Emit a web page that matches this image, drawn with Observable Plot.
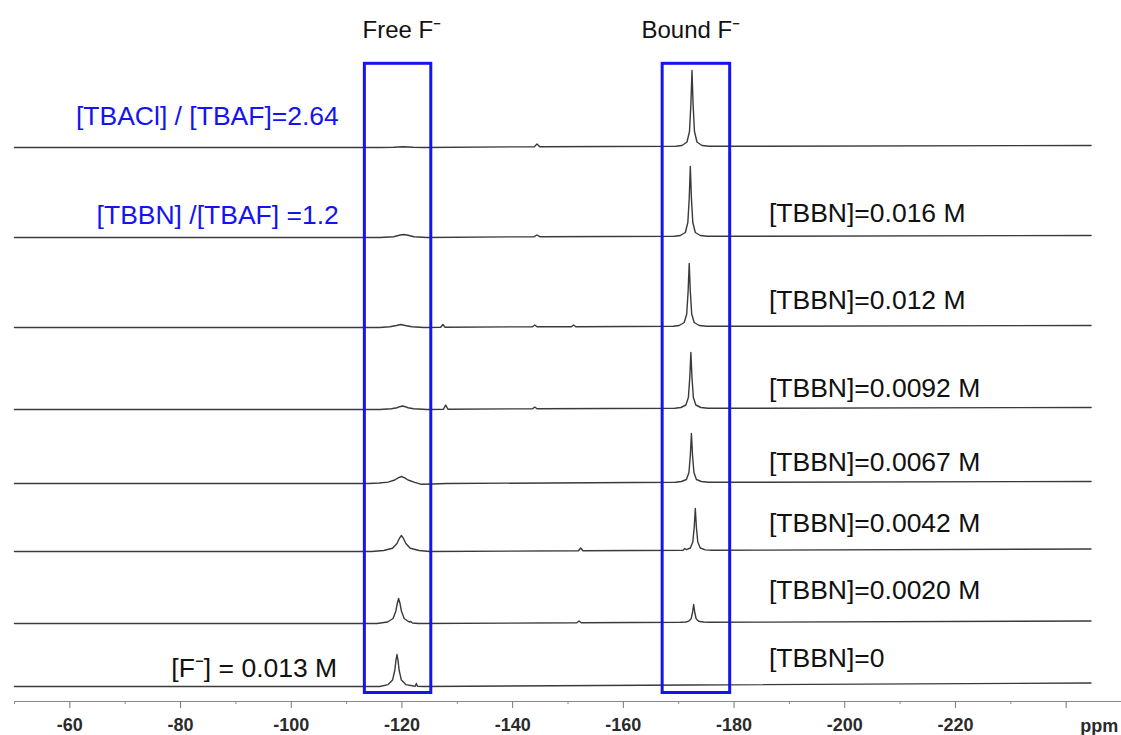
<!DOCTYPE html>
<html>
<head>
<meta charset="utf-8">
<script src="https://cdn.jsdelivr.net/npm/d3@7"></script>
<script src="https://cdn.jsdelivr.net/npm/@observablehq/plot@0.6"></script>
<style>
  html, body { margin: 0; padding: 0; background: #fff; }
  #chart svg { display: block; }
</style>
</head>
<body>
<div id="chart"></div>
<script>
// ---- Data ----
// Spectrum names (top to bottom) and their stacking offsets (intensity units)
const spectrumNames = ["TBACl/TBAF=2.64", "TBBN=0.016", "TBBN=0.012", "TBBN=0.0092", "TBBN=0.0067", "TBBN=0.0042", "TBBN=0.0020", "TBBN=0"];
const spectrumOffsets = [554, 464, 374, 292, 218, 150, 78, 15];

// Traced spectra: [ppm, intensity]
const spec1 = [[-50,0],[-116,0],[-118.5,0.3],[-120.2,0.8],[-122,0.3],[-124,0],[-143.9,0.8],[-144.4,3.5],[-144.9,0.8],[-169.5,1.2],[-170.6,2],[-171.5,5.5],[-171.95,16],[-172.2,43],[-172.4,77],[-172.6,43],[-172.85,16],[-173.3,5.5],[-174.2,2],[-175.5,1.2],[-244.5,2]];
const spec2 = [[-50,0],[-116,0],[-118.5,0.7],[-119.5,2.2],[-120.3,3],[-121.1,2.2],[-122.2,0.7],[-124.5,0],[-143.9,0.8],[-144.4,2.5],[-144.9,0.8],[-169.2,1.2],[-170.3,2],[-171.2,5],[-171.65,15],[-171.9,39],[-172.1,71],[-172.3,39],[-172.55,15],[-173,5],[-173.9,2],[-175.2,1.2],[-244.5,2]];
const spec3 = [[-50,0],[-116,0],[-117.8,0.7],[-119,2],[-119.8,3],[-120.6,2],[-121.8,0.7],[-124,0],[-127,0.3],[-127.4,3],[-127.8,0.3],[-143.6,0.7],[-144,2.5],[-144.4,0.7],[-150.6,0.8],[-151,2.5],[-151.4,0.8],[-169,1.2],[-170.1,2],[-171,5],[-171.45,13.5],[-171.7,36],[-171.9,64],[-172.1,36],[-172.35,13.5],[-172.8,5],[-173.7,2],[-175,1.2],[-244.5,2]];
const spec4 = [[-50,0],[-116,0],[-118.1,0.7],[-119.1,1.75],[-119.6,2.8],[-120.1,3.5],[-120.6,2.8],[-121.1,1.75],[-122.1,0.7],[-124.5,0],[-127.5,0.3],[-127.9,4.5],[-128.3,0.3],[-143.6,0.7],[-144,2.5],[-144.4,0.7],[-169.3,1.2],[-170.4,2],[-171.3,4.5],[-171.75,12],[-172,32],[-172.2,57],[-172.4,32],[-172.65,12],[-173.1,4.5],[-174,2],[-175.3,1.2],[-244.5,2]];
const spec5 = [[-50,0],[-114,0],[-115.9,0.5],[-117.5,1.4],[-118.7,3.5],[-119.3,5.6],[-119.9,7],[-120.5,5.6],[-121.1,3.5],[-122.3,1.2],[-123.5,-0.8],[-125.5,-0.5],[-128,0],[-169.4,1.2],[-170.5,2],[-171.4,4],[-171.85,11],[-172.1,28],[-172.3,50],[-172.5,28],[-172.75,11],[-173.2,4],[-174.1,2],[-175.4,1.2],[-244.5,2]];
const spec6 = [[-50,0],[-114.5,0],[-116.7,1],[-118.3,3.2],[-119.1,8],[-119.5,12.8],[-119.9,16],[-120.3,12.8],[-120.7,8],[-121.5,3.2],[-123.1,1],[-125,0],[-151.9,0.7],[-152.3,3.5],[-152.7,0.7],[-170.8,1.2],[-171.1,3],[-171.4,1.8],[-172.1,3.5],[-172.55,9.5],[-172.8,24],[-173,43],[-173.2,24],[-173.45,9.5],[-173.9,3.5],[-174.8,1.6],[-176,1.2],[-244.5,2.5]];
const spec7 = [[-50,0],[-115.5,0],[-117.4,1.5],[-118.4,5],[-118.9,12.5],[-119.15,20],[-119.4,25],[-119.65,20],[-119.9,12.5],[-120.4,5],[-121.3,1.5],[-121.6,2],[-121.9,0.5],[-123,0],[-151.6,0.7],[-152,2.5],[-152.4,0.7],[-170.3,1.2],[-171.3,1.5],[-171.8,2.3],[-172.25,4.8],[-172.5,11],[-172.7,19],[-172.9,11],[-173.15,4.8],[-173.6,2.3],[-174.5,1.5],[-175.5,1.2],[-244.5,2.5]];
const spec8 = [[-50,0],[-116,0],[-117.5,1.9],[-118.3,6.4],[-118.7,16],[-118.9,25.6],[-119.1,32],[-119.3,25.6],[-119.5,16],[-119.9,6.4],[-120.7,1.9],[-122.1,0.5],[-122.4,0.3],[-122.6,3],[-122.8,0.3],[-124,0],[-172,1.5],[-244.5,3.5]];
const spectra = [spec1, spec2, spec3, spec4, spec5, spec6, spec7, spec8];

// Highlight boxes (ppm range, intensity-unit range)
const boxNames = ["Free F⁻", "Bound F⁻"];
const boxPpmFrom = [-113.3, -167.1];
const boxPpmTo = [-125.3, -179.3];
const boxBottom = [8.5, 8.5];
const boxTop = [637.7, 637.7];
const boxTitleX = [-120, -172.2];
const boxTitleY = [671, 671];

// Annotation labels
const ratioLabels = ["[TBACl] / [TBAF]=2.64", "[TBBN] /[TBAF] =1.2"];
const ratioLabelX = [-108.6, -108.6];
const ratioLabelY = [585, 486];
const concLabels = ["[TBBN]=0.016 M", "[TBBN]=0.012 M", "[TBBN]=0.0092 M", "[TBBN]=0.0067 M", "[TBBN]=0.0042 M", "[TBBN]=0.0020 M", "[TBBN]=0"];
const concLabelX = [-186.3, -186.3, -186.3, -186.3, -186.3, -186.3, -186.3];
const concLabelY = [488, 401, 313, 239, 178, 111, 43];
const fluorideLabel = ["[F⁻] = 0.013 M"];
const fluorideLabelX = [-108.3];
const fluorideLabelY = [33];

// Axis ticks
const majorTicks = [-60, -80, -100, -120, -140, -160, -180, -200, -220, -240];
const majorTickLabels = ["-60", "-80", "-100", "-120", "-140", "-160", "-180", "-200", "-220", ""];
const minorTicks = [-50, -70, -90, -110, -130, -150, -170, -190, -210, -230, -250];
const unitLabel = ["ppm"];
const unitLabelX = [-246];

// ---- Build table ----
const lineRows = [];
spectra.forEach((pts, i) => {
  pts.forEach(([ppm, v]) => lineRows.push({ name: spectrumNames[i], ppm, y: spectrumOffsets[i] + v }));
});
const boxes = boxNames.map((n, i) => ({ name: n, x1: boxPpmFrom[i], x2: boxPpmTo[i], y1: boxBottom[i], y2: boxTop[i], tx: boxTitleX[i], ty: boxTitleY[i] }));
const tickLabelMap = new Map(majorTicks.map((t, i) => [t, majorTickLabels[i]]));

const font = "'Liberation Sans', Arial, Helvetica, sans-serif";
const blue = "#1414f0";

const chart = Plot.plot({
  width: 1121,
  height: 735,
  marginLeft: 14,
  marginRight: 0,
  marginTop: 0,
  marginBottom: 34,
  style: { background: "#fff", fontFamily: font, overflow: "visible" },
  x: { domain: [-50, -250], axis: null },
  y: { domain: [0, 701], axis: null },
  marks: [
    Plot.ruleY([0], { stroke: "#888", strokeWidth: 1 }),
    Plot.axisX({ ticks: majorTicks, tickSize: 7, tickPadding: 10, stroke: "#777", fill: "#2b2b2b", fontSize: 18, fontWeight: "bold", tickFormat: d => tickLabelMap.get(d) }),
    Plot.axisX({ ticks: minorTicks, tickSize: 3, stroke: "#888", tickFormat: () => "" }),
    Plot.text(unitLabel, { x: unitLabelX, y: [0], text: d => d, dy: 25, fontSize: 18, fontWeight: "bold", fill: "#2b2b2b" }),
    Plot.line(lineRows, { x: "ppm", y: "y", z: "name", stroke: "#3a3a3a", strokeWidth: 1.4, curve: "linear" }),
    Plot.rect(boxes, { x1: "x1", x2: "x2", y1: "y1", y2: "y2", fill: "none", stroke: blue, strokeWidth: 3 }),
    Plot.text(boxes, { x: "tx", y: "ty", text: "name", fontSize: 24, fill: "#111" }),
    Plot.text(ratioLabels, { x: ratioLabelX, y: ratioLabelY, text: d => d, textAnchor: "end", fontSize: 26.5, fill: blue }),
    Plot.text(concLabels, { x: concLabelX, y: concLabelY, text: d => d, textAnchor: "start", fontSize: 26.5, fill: "#111" }),
    Plot.text(fluorideLabel, { x: fluorideLabelX, y: fluorideLabelY, text: d => d, textAnchor: "end", fontSize: 26.5, fill: "#111" })
  ]
});
document.getElementById("chart").appendChild(chart);
</script>
</body>
</html>
